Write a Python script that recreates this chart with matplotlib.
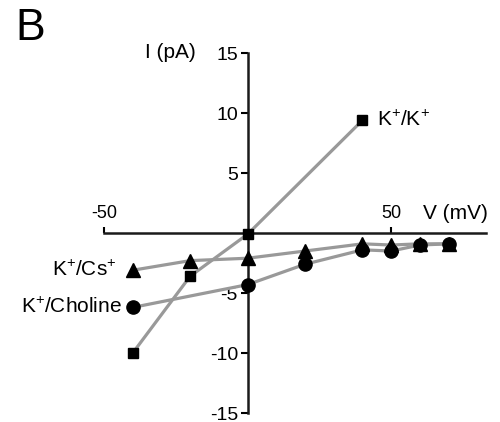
import matplotlib
matplotlib.use("Agg")
import matplotlib.pyplot as plt

plt.rcParams['font.family'] = ['Liberation Sans', 'DejaVu Sans']
plt.rcParams['axes.unicode_minus'] = False
plt.rcParams['mathtext.fontset'] = 'custom'
plt.rcParams['mathtext.rm'] = 'Liberation Sans'
plt.rcParams['mathtext.it'] = 'Liberation Sans'

# Data (voltage in mV, current in pA)
v_kk = [-40, -20, 0, 40]
i_kk = [-10.0, -3.6, -0.1, 9.4]

v_kcs = [-40, -20, 0, 20, 40, 50, 60, 70]
i_kcs = [-3.1, -2.3, -2.1, -1.5, -0.9, -1.0, -0.9, -0.9]

v_kchol = [-40, 0, 20, 40, 50, 60, 70]
i_kchol = [-6.2, -4.3, -2.6, -1.4, -1.5, -1.0, -0.9]

x_ticks = [-50, 50]
x_ticklabels = ['-50', '50']
y_ticks = [15, 10, 5, -5, -10, -15]
y_ticklabels = ['15', '10', '5', '-5', '-10', '-15']

fig = plt.figure(figsize=(5.0, 4.22), dpi=100)
ax = fig.add_axes([0.208, 0.0213, 0.764, 0.853])
ax.set_xlim(-50, 83)
ax.set_ylim(-15, 15)

line_kw = dict(color='#999999', lw=2.3)
ax.plot(v_kcs, i_kcs, **line_kw, zorder=2)
ax.plot(v_kchol, i_kchol, **line_kw, zorder=2)
ax.plot(v_kk, i_kk, **line_kw, zorder=2)
ax.plot(v_kcs, i_kcs, ls='none', marker='^', ms=9.5, color='black', zorder=3)
ax.plot(v_kchol, i_kchol, ls='none', marker='o', ms=9.5, color='black', zorder=4)
ax.plot(v_kk, i_kk, ls='none', marker='s', ms=7.5, color='black', zorder=5)

for s in ['right', 'bottom']:
    ax.spines[s].set_visible(False)
ax.spines['left'].set_position(('data', 0))
ax.spines['top'].set_position(('data', 0))
for s in ['left', 'top']:
    ax.spines[s].set_linewidth(1.8)
    ax.spines[s].set_color('#1a1a1a')
ax.set_facecolor('none')

ax.xaxis.set_ticks_position('top')
ax.set_xticks(x_ticks)
ax.set_xticklabels(x_ticklabels)
ax.tick_params(axis='x', direction='out', length=4, width=1.5, labelsize=13, pad=4)
ax.set_yticks(y_ticks)
ax.set_yticklabels(y_ticklabels)
ax.tick_params(axis='y', direction='out', length=5, width=1.5, labelsize=14, pad=2)

lab_fs = 15
ax.text(45, 9.4, r'K$^{+}$/K$^{+}$', fontsize=lab_fs, ha='left', va='center')
ax.text(-45.5, -3.1, r'K$^{+}$/Cs$^{+}$', fontsize=lab_fs, ha='right', va='center')
ax.text(-43.8, -6.2, r'K$^{+}$/Choline', fontsize=lab_fs, ha='right', va='center')

fig.text(196 / 500, 1 - 53 / 422, 'I (pA)', fontsize=15, ha='right', va='center')
fig.text(488 / 500, 1 - 213 / 422, 'V (mV)', fontsize=15, ha='right', va='center')
fig.text(15 / 500, 1 - 29 / 422, 'B', fontsize=32, ha='left', va='center')

fig.savefig('out.png', dpi=100)
